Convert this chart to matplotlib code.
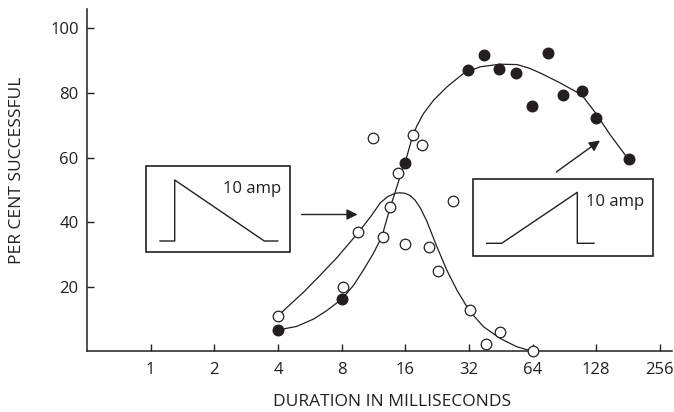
import matplotlib
matplotlib.use('Agg')
from matplotlib import pyplot as plt
from matplotlib.patches import Rectangle
from matplotlib.lines import Line2D

# figure size in pixels
W, H = 674, 412
INK = '#231f20'

plt.rcParams['font.family'] = ['Open Sans', 'DejaVu Sans']

# filled circles (duration in ms, per cent successful)
filled_x = [4, 8, 16, 31.6, 37.6, 44.6, 53.3, 63.9, 75.8, 89.5, 109.3, 127.7, 182.9]
filled_y = [6.6, 16.1, 58.2, 87.1, 91.7, 87.4, 86.3, 75.9, 92.3, 79.3, 80.6, 72.4, 59.5]

# open circles
open_x = [4, 8.1, 9.55, 11.3, 12.5, 13.5, 14.7, 16, 17.4, 19.2, 20.8, 22.8,
          26.9, 32.2, 38.5, 44.9, 64.1]
open_y = [11.0, 20.0, 36.8, 66.1, 35.5, 44.8, 55.3, 33.1, 67.0, 63.9, 32.2, 24.9,
          46.5, 12.8, 2.2, 5.9, 0.0]

# hand-drawn fit through the filled circles
fit_filled_x = [4, 4.9, 5.9, 6.8, 8, 9.1, 10.15, 11.3, 12.4, 13.5, 14.3, 15.1, 16,
                17.3, 18.15, 19.5, 21.8, 25.2, 30.1, 36.1, 44.9, 53.9, 61.5, 69.5,
                86.4, 109.3, 128.7, 148.7, 181.5]
fit_filled_y = [6.6, 7.7, 10.0, 12.6, 16.1, 20.4, 25.2, 30.3, 35.5, 44.0, 49.1, 54.0, 58.6,
                66.5, 69.8, 73.6, 77.8, 81.9, 86.0, 88.1, 88.9, 88.8, 87.7, 86.2,
                83.1, 79.4, 73.3, 67.1, 59.5]

# bell shaped fit through the open circles
fit_open_x = [4, 5.3, 6.3, 7.6, 9.6, 11.0, 12.2, 13.2, 14.3, 15.1, 16.0, 16.9, 17.8,
              18.8, 20.2, 22.6, 25.2, 28.1, 32.1, 37.5, 44.9, 53.9, 64]
fit_open_y = [11.0, 18.4, 23.4, 29.0, 36.8, 41.8, 46.0, 47.9, 48.9, 49.1, 48.9, 48.2, 46.8,
              44.5, 40.4, 32.3, 25.0, 18.9, 12.6, 7.6, 4.0, 1.4, 0.0]

x_ticks = [1, 2, 4, 8, 16, 32, 64, 128, 256]
y_ticks = [20, 40, 60, 80, 100]


def fp(x, y):
    """pixel position -> figure fraction"""
    return (x / W, 1 - y / H)


def line(fig, pts, lw=1.0):
    xs = [fp(*p)[0] for p in pts]
    ys = [fp(*p)[1] for p in pts]
    fig.add_artist(Line2D(xs, ys, transform=fig.transFigure, color=INK, lw=lw))


def box(fig, x0, y0, x1, y1):
    fig.add_artist(Rectangle(fp(x0, y1), (x1 - x0) / W, (y1 - y0) / H,
                             transform=fig.transFigure, fill=False,
                             edgecolor=INK, lw=1.2))


fig = plt.figure(figsize=(W / 100, H / 100), dpi=100)
ax = fig.add_axes([87 / W, 1 - 351.3 / H, (672 - 87) / W, (351.3 - 9) / H])

# curves first, markers on top
ax.plot(fit_filled_x, fit_filled_y, color=INK, lw=0.9, zorder=2,
        solid_joinstyle='round')
ax.plot(fit_open_x, fit_open_y, color=INK, lw=0.9, zorder=2,
        solid_joinstyle='round')
ax.plot(filled_x, filled_y, 'o', color=INK, ms=7.6, zorder=3, clip_on=False)
ax.plot(open_x, open_y, 'o', mfc='white', mec=INK, mew=0.9, ms=7.6, zorder=3,
        clip_on=False)

ax.set_xscale('log', base=2)
ax.set_xlim(0.5, 292)
ax.set_ylim(0, 106)
ax.set_xticks(x_ticks)
ax.set_xticklabels([str(t) for t in x_ticks])
ax.minorticks_off()
ax.set_yticks(y_ticks)
ax.set_yticklabels([str(t) for t in y_ticks])

for side in ['top', 'right']:
    ax.spines[side].set_visible(False)
for side in ['left', 'bottom']:
    ax.spines[side].set_color(INK)
    ax.spines[side].set_linewidth(1.1)
ax.tick_params(axis='both', direction='in', length=5, width=1.0, color=INK,
               labelsize=12, labelcolor=INK)
ax.tick_params(axis='x', pad=8)
ax.tick_params(axis='y', pad=6)

# axis titles
fig.text(*fp(17, 170), 'PER CENT SUCCESSFUL', rotation=90, ha='center',
         va='center', fontsize=12.5, color=INK)
fig.text(*fp(392, 402), 'DURATION IN MILLISECONDS', ha='center', va='center',
         fontsize=12.5, color=INK)

# left inset: fast rise, slow decay
box(fig, 146, 166, 290, 252)
line(fig, [(160, 241), (174.7, 241), (174.7, 180), (264.3, 241), (277.7, 241)])
fig.text(*fp(252, 189), '10 amp', ha='center', va='center', fontsize=12, color=INK)
ax.annotate('', xy=fp(357.5, 214.5), xytext=fp(301.5, 214.5),
            xycoords='figure fraction', textcoords='figure fraction',
            arrowprops=dict(arrowstyle='-|>', color=INK, lw=1.0,
                            mutation_scale=16, shrinkA=0, shrinkB=0))

# right inset: slow rise, fast decay
box(fig, 473.3, 179.3, 652.7, 255.7)
line(fig, [(486.7, 243.3), (501.7, 243.3), (577.3, 192.3), (577.3, 243.3), (594, 243.3)])
fig.text(*fp(615, 201.5), '10 amp', ha='center', va='center', fontsize=12, color=INK)
ax.annotate('', xy=fp(600, 140.5), xytext=fp(556.3, 172),
            xycoords='figure fraction', textcoords='figure fraction',
            arrowprops=dict(arrowstyle='-|>', color=INK, lw=1.0,
                            mutation_scale=16, shrinkA=0, shrinkB=0))

plt.savefig('out.png', dpi=100)
